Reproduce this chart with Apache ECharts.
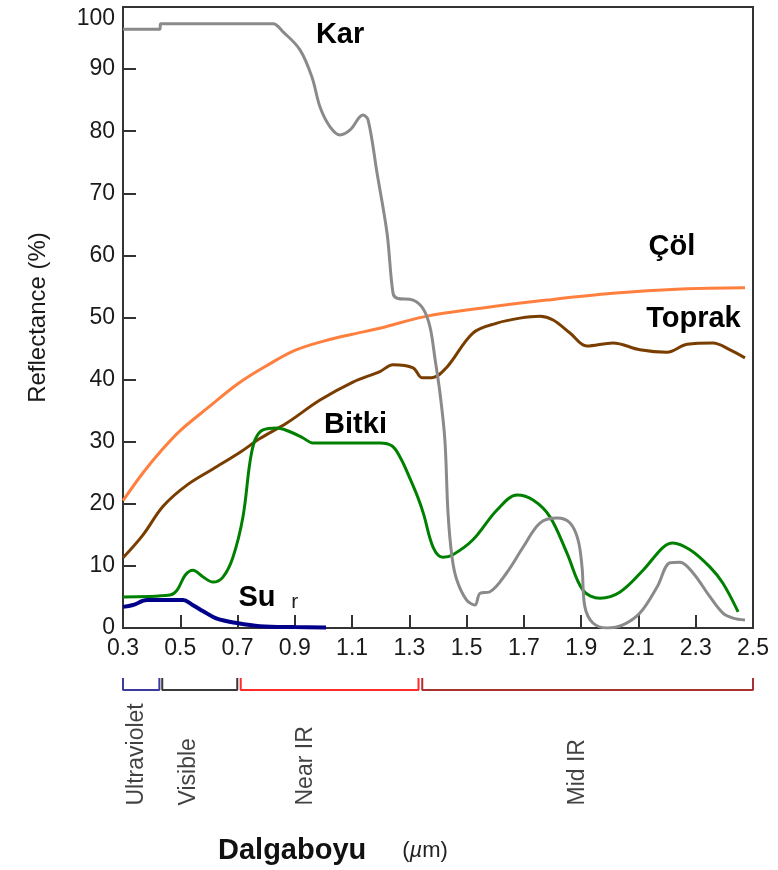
<!DOCTYPE html>
<html>
<head>
<meta charset="utf-8">
<script src="https://cdn.jsdelivr.net/npm/echarts@6/dist/echarts.min.js"></script>
<style>html,body{margin:0;padding:0;background:#fff}#c{width:778px;height:870px}</style>
</head>
<body>
<div id="c"></div>
<script>
// ---- data (wavelength in µm, reflectance in %) ----
const xTickValues = [0.3, 0.5, 0.7, 0.9, 1.1, 1.3, 1.5, 1.7, 1.9, 2.1, 2.3, 2.5];

const karData = [[0.3,96.4],[0.428,96.4],[0.432,97.3],[0.6,97.3],[0.824,97.3],[0.859,96.0],[0.918,93.1],[0.96,88.7],[0.988,83.9],[1.023,80.7],[1.058,79.4],[1.093,80.2],[1.138,82.6],[1.156,81.8],[1.187,73.3],[1.222,63.6],[1.243,53.9],[1.257,53.1],[1.313,52.8],[1.348,51.4],[1.372,48.5],[1.39,43.2],[1.407,37.8],[1.424,30.3],[1.435,18.5],[1.449,11.4],[1.466,7.7],[1.5,4.5],[1.529,3.7],[1.547,5.6],[1.58,5.8],[1.64,8.9],[1.697,13.0],[1.756,16.9],[1.816,17.7],[1.861,16.9],[1.889,14.2],[1.903,9.8],[1.913,3.4],[1.941,0.8],[1.99,0],[2.046,0.5],[2.105,2.4],[2.165,6.6],[2.21,10.5],[2.245,10.6],[2.29,8.9],[2.35,5.0],[2.395,2.4],[2.43,1.6],[2.472,1.3]];

const colData = [[0.3,20.5],[0.37,25.0],[0.44,28.9],[0.5,31.8],[0.6,35.6],[0.7,39.3],[0.8,42.2],[0.9,44.7],[1.0,46.2],[1.1,47.3],[1.2,48.3],[1.35,50.1],[1.55,51.5],[1.78,52.8],[2.01,53.9],[2.25,54.6],[2.472,54.8]];

const toprakData = [[0.3,11.3],[0.37,15.0],[0.44,19.6],[0.523,23.0],[0.614,25.6],[0.709,28.3],[0.778,30.5],[0.872,33.0],[0.988,36.7],[1.103,39.6],[1.197,41.3],[1.243,42.4],[1.313,41.9],[1.344,40.3],[1.379,40.3],[1.431,42.0],[1.522,47.5],[1.606,49.1],[1.686,49.9],[1.756,50.2],[1.802,49.6],[1.861,47.5],[1.92,45.4],[2.011,45.9],[2.105,44.8],[2.2,44.4],[2.27,45.7],[2.36,45.9],[2.42,44.8],[2.472,43.5]];

const bitkiData = [[0.3,5.0],[0.464,5.3],[0.489,6.1],[0.517,8.5],[0.544,9.3],[0.58,8.2],[0.614,7.4],[0.649,8.2],[0.684,11.4],[0.719,17.9],[0.743,26.6],[0.761,30.3],[0.789,31.9],[0.838,32.2],[0.883,31.6],[0.929,30.6],[0.963,29.8],[1.197,29.8],[1.24,29.3],[1.27,27.3],[1.30,24.3],[1.33,21.0],[1.35,18.3],[1.383,13.0],[1.417,11.4],[1.452,11.8],[1.522,14.2],[1.606,19.0],[1.676,21.4],[1.732,20.6],[1.791,17.9],[1.85,12.1],[1.906,6.1],[1.966,4.8],[2.036,5.8],[2.116,9.3],[2.186,13.0],[2.22,13.7],[2.28,12.6],[2.35,9.8],[2.395,7.2],[2.448,2.6]];

const suData = [[0.3,3.4],[0.335,3.7],[0.384,4.5],[0.51,4.5],[0.54,3.8],[0.58,2.7],[0.628,1.5],[0.698,0.8],[0.778,0.3],[0.9,0.15],[1.009,0.1]];

// curve name labels: [wavelength, reflectance]
const curveLabels = {
  Kar: [1.058, 95.5],
  'Çöl': [2.217, 61.4],
  Toprak: [2.292, 49.8],
  Bitki: [1.112, 32.7],
  Su: [0.768, 4.9]
};
const strayLabel = ['r', 0.9, 4.1];

// spectral regions
const bandNames = ['Ultraviolet', 'Visible', 'Near IR', 'Mid IR'];
const bandStart = [0.3, 0.437, 0.711, 1.345];
const bandEnd = [0.427, 0.699, 1.332, 2.5];
const bandLabelX = [0.35, 0.53, 0.94, 1.89];
const bandColors = ['#3a3aa0', '#3a3a3a', '#ff2a2a', '#a83232'];

// ---- chart ----
const chart = echarts.init(document.getElementById('c'), null, {renderer: 'canvas'});
const FONT = '"Liberation Sans", Arial, sans-serif';

function curve(name, data, color, width) {
  const lp = curveLabels[name];
  const mpData = [{name: name, coord: lp}];
  if (name === 'Su') {
    mpData.push({name: strayLabel[0], coord: [strayLabel[1], strayLabel[2]],
      label: {fontWeight: 'normal', fontSize: 21, color: '#222'}});
  }
  return {
    type: 'line', name: name, data: data, xAxisIndex: 0, yAxisIndex: 0,
    showSymbol: false, smooth: 0.35,
    lineStyle: {color: color, width: width},
    itemStyle: {color: color},
    z: 3,
    markPoint: {
      symbol: 'circle', symbolSize: 0, itemStyle: {color: 'rgba(0,0,0,0)'},
      silent: true,
      label: {show: true, position: 'inside', formatter: p => p.name,
        fontFamily: FONT, fontWeight: 'bold', fontSize: 29, color: '#000'},
      data: mpData
    }
  };
}

const bandSeries = bandNames.map((n, i) => ({
  type: 'line', name: n, xAxisIndex: 1, yAxisIndex: 1,
  data: [[bandStart[i], 1], [bandStart[i], 0], [bandEnd[i], 0], [bandEnd[i], 1]],
  showSymbol: false, lineStyle: {color: bandColors[i], width: 2}, silent: true
}));

const option = {
  animation: false,
  backgroundColor: '#fff',
  title: {
    left: 218, top: 836, padding: 0,
    text: '{d|Dalgaboyu}{u|(}{m|µ}{u|m)}',
    textStyle: {
      fontWeight: 'normal',
      rich: {
        d: {fontFamily: FONT, fontSize: 29, fontWeight: 'bold', color: '#111', padding: [0, 36, 0, 0], verticalAlign: 'middle'},
        u: {fontFamily: FONT, fontSize: 22, fontWeight: 'normal', color: '#222', verticalAlign: 'middle'},
        m: {fontFamily: FONT, fontSize: 22, fontWeight: 'normal', fontStyle: 'italic', color: '#222', verticalAlign: 'middle'}
      }
    }
  },
  grid: [
    {left: 123, right: 25, top: 7, bottom: 242, show: true, borderColor: '#333', borderWidth: 2, backgroundColor: 'rgba(0,0,0,0)'},
    {left: 123, right: 25, top: 678, height: 12}
  ],
  xAxis: [
    {
      type: 'value', gridIndex: 0, min: 0.3, max: 2.5,
      axisLine: {show: true, onZero: false, lineStyle: {color: '#333', width: 2}},
      axisTick: {show: true, inside: true, length: 13, customValues: xTickValues, lineStyle: {color: '#333', width: 2}},
      axisLabel: {show: true, customValues: xTickValues, formatter: v => v.toFixed(1),
        fontFamily: FONT, fontSize: 23, color: '#1a1a1a', margin: 9},
      splitLine: {show: false}
    },
    {type: 'value', gridIndex: 1, min: 0.3, max: 2.5, show: false}
  ],
  yAxis: [
    {
      type: 'value', gridIndex: 0, min: 0, max: 100, interval: 10,
      name: 'Reflectance (%)', nameLocation: 'middle', nameGap: 73, nameRotate: 90,
      nameTextStyle: {fontFamily: FONT, fontSize: 24, color: '#1a1a1a'},
      axisLine: {show: true, onZero: false, lineStyle: {color: '#333', width: 2}},
      axisTick: {show: true, inside: true, length: 13, lineStyle: {color: '#333', width: 2}},
      axisLabel: {fontFamily: FONT, fontSize: 23, color: '#1a1a1a', margin: 8, verticalAlignMaxLabel: 'top'},
      splitLine: {show: false}
    },
    {type: 'value', gridIndex: 1, min: 0, max: 1, show: false}
  ],
  series: [
    curve('Çöl', colData, '#ff7f3f', 3),
    curve('Toprak', toprakData, '#7a3d00', 3),
    curve('Bitki', bitkiData, '#008000', 3),
    curve('Kar', karData, '#8a8a8a', 3),
    curve('Su', suData, '#00008b', 4),
    ...bandSeries,
    {
      type: 'scatter', xAxisIndex: 1, yAxisIndex: 1, symbolSize: 1,
      itemStyle: {color: 'rgba(0,0,0,0)'}, silent: true,
      data: bandNames.map((n, i) => ({name: n, value: [bandLabelX[i], 0]})),
      label: {show: true, formatter: p => p.name, position: [0, 116], rotate: 90,
        align: 'left', verticalAlign: 'middle', fontFamily: FONT, fontSize: 23, color: '#111'}
    }
  ]
};
chart.setOption(option);
</script>
</body>
</html>
